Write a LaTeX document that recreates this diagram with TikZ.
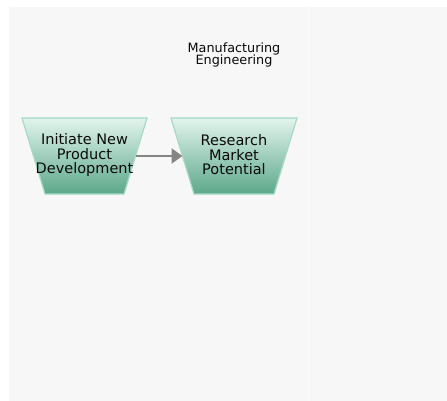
\documentclass[tikz,border=0pt]{standalone}
\usepackage{fontspec}
\setmainfont{DejaVu Sans}
\usetikzlibrary{arrows.meta}
\definecolor{bgc}{HTML}{F7F7F7}
\definecolor{lanec}{HTML}{FAFAFA}
\definecolor{topg}{HTML}{E2F4EC}
\definecolor{botg}{HTML}{5CA88B}
\definecolor{edgeg}{HTML}{A6D9C6}
\definecolor{arrc}{HTML}{858585}
\definecolor{txtc}{HTML}{0A0A0A}
\tikzset{
  procshape/.style={draw=edgeg, line width=1.2pt, top color=topg, bottom color=botg, line join=miter},
  proctext/.style={align=center, text=txtc, font=\fontsize{14.5pt}{14.5pt}\selectfont, inner sep=0pt},
  lanetext/.style={align=center, text=txtc, font=\fontsize{12.8pt}{12.5pt}\selectfont, inner sep=0pt},
  flow/.style={draw=arrc, line width=2.4pt, -{Triangle[length=11pt,width=15pt]}}
}
\begin{document}
\begin{tikzpicture}[x=1pt,y=1pt]
\useasboundingbox (0,0) rectangle (447,-401);
\fill[white] (0,0) rectangle (447,-401);
\fill[bgc] (9,-7) rectangle (447,-401);
\draw[lanec, line width=1pt] (308,-7) -- (308,-401);
\node[lanetext] (lane) at (234,-55) {Manufacturing\\Engineering};
% process shapes
\shade[procshape] (22,-118) -- (147,-118) -- (124,-194) -- (45,-194) -- cycle;
\shade[procshape] (171,-118) -- (297,-118) -- (274,-194) -- (194,-194) -- cycle;
\coordinate (ae) at (135.5,-156);
\coordinate (bw) at (182.5,-156);
\node[proctext] (at) at (84.5,-155) {Initiate New\\Product\\Development};
\node[proctext] (bt) at (234,-155) {Research\\Market\\Potential};
\draw[flow] (ae) -- (bw);
\end{tikzpicture}
\end{document}
